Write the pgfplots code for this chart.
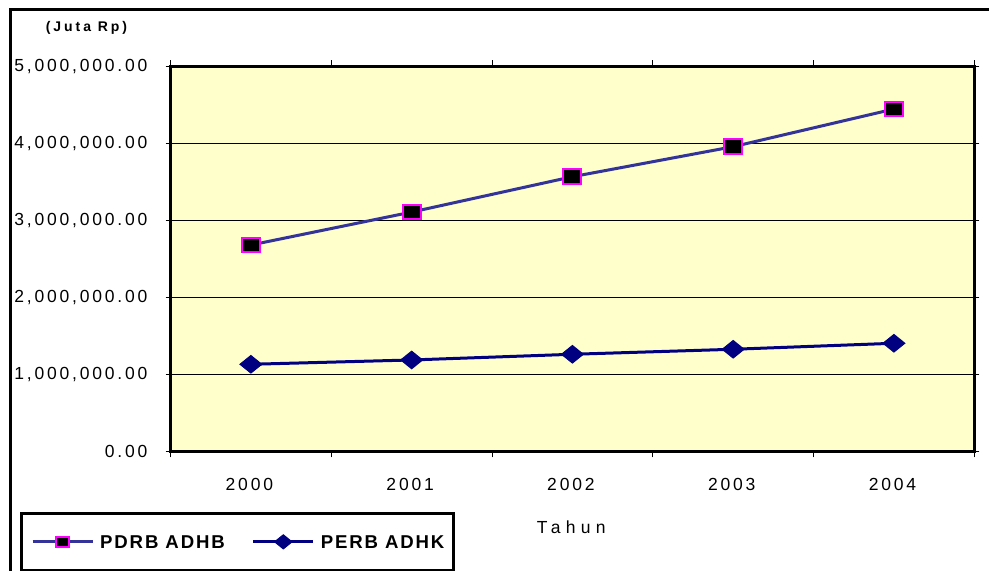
\documentclass[border=0pt]{standalone}
\usepackage{fontspec}
\setmainfont{Liberation Sans}
\newfontfamily\tickfont{Liberation Sans}[LetterSpace=16]
\newfontfamily\tahunfont{Liberation Sans}[LetterSpace=30]
\newfontfamily\legfont{Liberation Sans}[LetterSpace=10]
\newfontfamily\unitfont{Liberation Sans}[LetterSpace=21]
\usepackage{pgfplots}
\pgfplotsset{compat=1.18}
\definecolor{bg}{HTML}{FFFFCC}
\definecolor{lineA}{HTML}{333399}
\definecolor{lineB}{HTML}{000080}
\definecolor{mag}{HTML}{FF00FF}
\pgfplotsset{myleg/.style={legend image code/.code={\draw[##1, /tikz/every mark/.append style={scale=#1}, mark repeat=2, mark phase=2] plot coordinates {(0bp,0bp) (30bp,0bp) (60bp,0bp)};}}}
\begin{document}
\begin{tikzpicture}[x=1bp,y=1bp]
\useasboundingbox (0,0) rectangle (989,571);
\draw[line width=3.5bp] (10.5,-10) -- (10.5,561.3) -- (1000,561.3);
\begin{axis}[
  at={(170.5bp,119.7bp)}, anchor=south west,
  scale only axis, width=803.8bp, height=385bp,
  xmin=-0.5, xmax=4.5, ymin=0, ymax=5000000,
  axis background/.style={fill=bg},
  axis line style={line width=3bp, black},
  tick align=outside,
  xtick={0,1,2,3,4},
  xticklabels={2000,2001,2002,2003,2004},
  major x tick style={draw=none},
  minor xtick={-0.5,0.5,1.5,2.5,3.5,4.5},
  minor x tick style={black, line width=1bp},
  minor tick length=6bp,
  major tick length=5bp,
  ytick={0,1000000,2000000,3000000,4000000,5000000},
  yticklabels={{0.00},{1,000,000.00},{2,000,000.00},{3,000,000.00},{4,000,000.00},{5,000,000.00}},
  scaled y ticks=false,
  major y tick style={black, line width=1bp},
  ymajorgrids,
  major grid style={black, line width=1.2bp},
  yticklabel style={font=\tickfont\fontsize{17.5bp}{20bp}\selectfont, anchor=east, inner sep=0pt, xshift=-18bp},
  xticklabel style={font=\tickfont\fontsize{17.5bp}{20bp}\selectfont, anchor=north, inner sep=0pt, yshift=-22bp, xshift=-1.5bp},
  xlabel={Tahun},
  xlabel style={font=\tahunfont\fontsize{17.5bp}{20bp}\selectfont, at={(axis description cs:0.4985,-0.196)}, anchor=center, inner sep=0pt},
  ylabel={(Juta Rp)},
  ylabel style={font=\unitfont\bfseries\fontsize{14bp}{16bp}\selectfont, rotate=-90, at={(axis description cs:-0.1045,1.0995)}, anchor=center, inner sep=0pt},
  legend columns=2,
  legend style={at={(axis description cs:-0.187,-0.1569)}, anchor=north west,
    draw=black, line width=3bp, fill=white,
    inner xsep=9.5bp, inner ysep=21.6bp,
    font=\legfont\bfseries\fontsize{18.6bp}{21bp}\selectfont,
    nodes={inner sep=0pt, text height=13.5bp, text depth=0pt},
    /tikz/every odd column/.append style={column sep=6bp},
    /tikz/every even column/.append style={column sep=27bp}},
]
\addplot[color=lineA, line width=3bp, mark=square*, mark size=7.25bp,
  mark options={solid, fill=black, draw=mag, line width=2bp, xscale=1.25},
  myleg=0.72]
  coordinates {(0,2679000) (1,3107000) (2,3566000) (3,3956000) (4,4445000)};
\addlegendentry{PDRB ADHB}
\addplot[color=lineB, line width=3bp, mark=diamond*, mark size=8.8bp,
  mark options={solid, fill=lineB, draw=lineB, line width=1bp, xscale=1.65},
  myleg=0.8]
  coordinates {(0,1130000) (1,1186000) (2,1260000) (3,1325000) (4,1403000)};
\addlegendentry{PERB ADHK}
\end{axis}
\end{tikzpicture}
\end{document}
